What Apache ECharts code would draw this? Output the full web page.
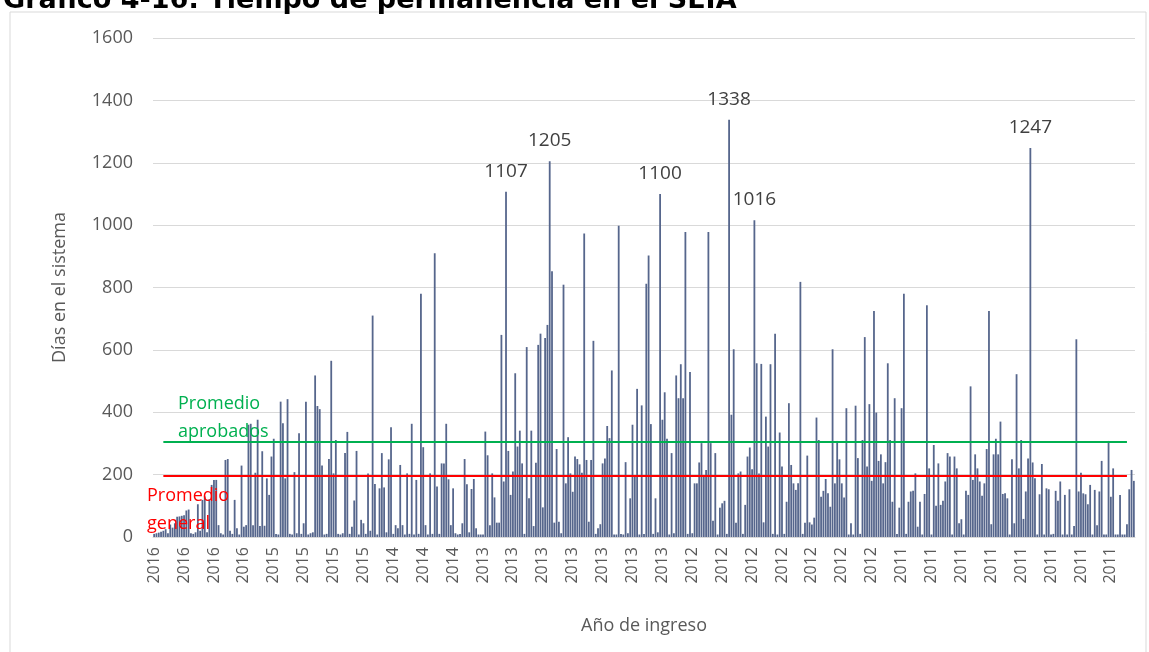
<!DOCTYPE html>
<html>
<head>
<meta charset="utf-8">
<title>Tiempo de permanencia en el SEIA</title>
<script src="https://cdn.jsdelivr.net/npm/echarts@6/dist/echarts.min.js"></script>
<style>
  html, body { margin: 0; padding: 0; background: #fff; }
  #chart { width: 1149px; height: 652px; }
</style>
</head>
<body>
<div id="chart"></div>
<script>
// etiquetas visibles del eje X (una cada 13 proyectos)
const tickLabels = [
  '2016', '2016', '2016', '2016', '2015', '2015', '2015', '2015', '2014', '2014', '2014',
  '2013', '2013', '2013', '2013', '2013', '2013', '2013',
  '2012', '2012', '2012', '2012', '2012', '2012', '2012',
  '2011', '2011', '2011', '2011', '2011', '2011', '2011', '2011'
]
const labelEvery = 13

// días en el sistema por proyecto
const dias = [
  10, 12, 14, 17, 20, 25, 12, 40, 30, 44, 65, 66, 68, 70, 85, 88, 12, 10, 15, 105,
  20, 119, 130, 15, 121, 167, 183, 183, 38, 12, 8, 247, 250, 20, 10, 119, 28, 8, 229, 33,
  38, 360, 363, 38, 206, 376, 35, 275, 36, 188, 135, 258, 315, 10, 8, 434, 365, 188, 442, 10,
  8, 208, 12, 333, 10, 44, 434, 8, 12, 15, 518, 420, 410, 229, 8, 10, 250, 565, 204, 311,
  10, 8, 12, 269, 337, 10, 33, 117, 276, 8, 55, 44, 10, 204, 20, 710, 170, 8, 156, 269,
  159, 15, 249, 352, 10, 38, 28, 231, 38, 8, 204, 10, 363, 8, 183, 10, 780, 288, 38, 8,
  204, 10, 910, 162, 10, 236, 236, 363, 185, 38, 156, 12, 8, 10, 44, 250, 169, 15, 154, 186,
  28, 8, 8, 8, 338, 262, 38, 204, 127, 46, 46, 648, 178, 1107, 276, 135, 210, 525, 290, 341,
  236, 10, 609, 124, 341, 35, 238, 616, 652, 95, 638, 680, 1205, 852, 46, 282, 49, 12, 809, 172,
  320, 204, 145, 258, 250, 233, 206, 973, 247, 49, 247, 629, 10, 28, 41, 236, 252, 356, 317, 534,
  8, 8, 998, 10, 8, 240, 12, 124, 360, 194, 475, 8, 422, 10, 812, 903, 362, 10, 124, 15,
  1100, 376, 464, 315, 8, 269, 12, 518, 445, 554, 445, 978, 10, 529, 12, 172, 172, 239, 301, 199,
  215, 978, 301, 52, 269, 8, 94, 108, 116, 10, 1338, 392, 602, 46, 204, 210, 10, 103, 258, 287,
  217, 1016, 557, 204, 555, 47, 386, 290, 554, 10, 652, 8, 335, 226, 10, 113, 429, 231, 172, 151,
  172, 818, 10, 46, 261, 47, 40, 62, 383, 311, 129, 148, 186, 140, 97, 602, 172, 308, 249, 172,
  127, 413, 8, 44, 8, 421, 253, 10, 311, 641, 226, 426, 180, 725, 399, 244, 265, 172, 240, 557,
  311, 113, 445, 10, 94, 413, 780, 10, 113, 146, 148, 204, 33, 113, 8, 138, 743, 220, 8, 295,
  100, 236, 103, 116, 178, 269, 258, 8, 258, 220, 44, 57, 8, 148, 135, 483, 183, 265, 220, 178,
  132, 172, 282, 725, 41, 265, 315, 265, 370, 138, 140, 124, 8, 249, 44, 522, 220, 311, 58, 146,
  252, 1247, 239, 188, 8, 137, 234, 8, 156, 153, 8, 10, 148, 116, 178, 8, 135, 8, 153, 8,
  35, 634, 146, 206, 140, 137, 105, 167, 8, 151, 38, 146, 244, 8, 8, 308, 129, 220, 8, 8,
  135, 8, 8, 41, 153, 215, 180
]

// promedios (líneas horizontales)
const promedioAprobados = 304
const promedioGeneral = 196

const categories = dias.map((v, i) => tickLabels[Math.floor(i / labelEvery)])
const lastIdx = dias.length - 4

const font = 'Open Sans'
const chart = echarts.init(document.getElementById('chart'))

chart.setOption({
  animation: false,
  title: {
    text: 'Gráfico 4-16: Tiempo de permanencia en el SEIA',
    left: -2,
    top: -18,
    textStyle: { fontFamily: 'DejaVu Sans', fontWeight: 'bold', fontSize: 27, color: '#000' }
  },
  graphic: [
    {
      type: 'rect',
      shape: { x: 10, y: 12, width: 1136, height: 700 },
      style: { fill: '#fff', stroke: '#d9d9d9', lineWidth: 1 },
      z: -10,
      silent: true
    },
    {
      type: 'text',
      left: 178,
      top: 390,
      z: 100,
      style: { text: 'Promedio\naprobados', fill: '#00b050', font: '18px "Open Sans"', lineHeight: 28 }
    },
    {
      type: 'text',
      left: 147,
      top: 482,
      z: 100,
      style: { text: 'Promedio\ngeneral', fill: '#ff0000', font: '18px "Open Sans"', lineHeight: 28 }
    }
  ],
  grid: { left: 153, right: 14, top: 38, bottom: 115 },
  xAxis: {
    type: 'category',
    data: categories,
    boundaryGap: true,
    name: 'Año de ingreso',
    nameLocation: 'middle',
    nameGap: 80,
    nameTextStyle: { fontFamily: font, fontSize: 18, color: '#595959' },
    axisLine: { show: true, lineStyle: { color: '#d9d9d9' } },
    axisTick: { show: false },
    axisLabel: {
      interval: labelEvery - 1,
      rotate: 90,
      margin: 10,
      padding: [8, 0, 0, 0],
      fontFamily: font,
      fontSize: 16,
      color: '#595959'
    }
  },
  yAxis: {
    type: 'value',
    min: 0,
    max: 1600,
    interval: 200,
    name: 'Días en el sistema',
    nameLocation: 'middle',
    nameGap: 84,
    nameRotate: 90,
    nameTextStyle: { fontFamily: font, fontSize: 18, color: '#595959' },
    axisLine: { show: false },
    axisTick: { show: false },
    axisLabel: {
      margin: 20,
      fontFamily: font,
      fontSize: 18,
      color: '#595959',
      formatter: v => String(v)
    },
    splitLine: { lineStyle: { color: '#d9d9d9', width: 1 } }
  },
  series: [
    {
      type: 'bar',
      data: dias,
      barWidth: 1.8,
      itemStyle: { color: '#56668c' },
      label: {
        show: true,
        position: 'top',
        distance: 11,
        fontFamily: font,
        fontSize: 19,
        color: '#404040',
        // sólo se rotulan los casos sobre 1000 días
        formatter: p => (p.value > 1000 ? p.value : '')
      },
      markLine: {
        silent: true,
        symbol: 'none',
        label: { show: false },
        data: [
          [
            { coord: [4, promedioAprobados], lineStyle: { color: '#00b050', width: 2, type: 'solid' } },
            { coord: [lastIdx, promedioAprobados] }
          ],
          [
            { coord: [4, promedioGeneral], lineStyle: { color: '#ff0000', width: 2, type: 'solid' } },
            { coord: [lastIdx, promedioGeneral] }
          ]
        ]
      }
    }
  ]
})
</script>
</body>
</html>
